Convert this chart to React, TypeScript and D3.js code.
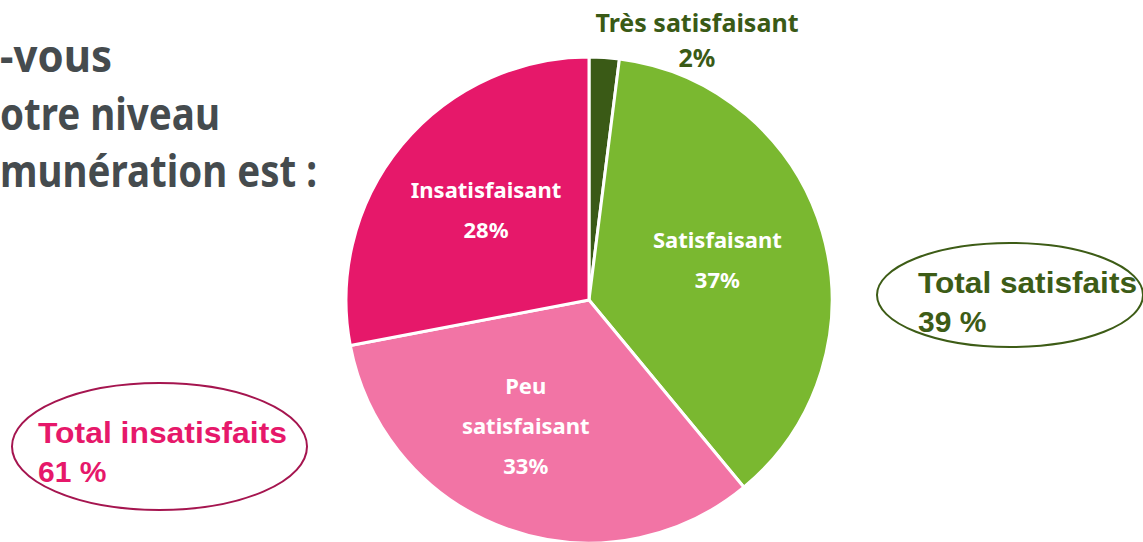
import React from 'react';
import * as d3 from 'd3';

// data
const categories = ['Très satisfaisant', 'Satisfaisant', 'Peu satisfaisant', 'Insatisfaisant'];
const values = [2, 37, 33, 28];
const colors = ['#3a5a16', '#7ab830', '#f274a5', '#e6186a'];
const labelLines = [['Très satisfaisant'], ['Satisfaisant'], ['Peu', 'satisfaisant'], ['Insatisfaisant']];
const titleLines = ['-vous', 'otre niveau', 'munération est :'];
const totalLabels = ['Total satisfaits', 'Total insatisfaits'];
const totalValues = [39, 61];

const width = 1143;
const height = 542;
const cx = 589;
const cy = 300;
const radius = 243;
// small hand nudges so the labels sit where the original put them
const labelShift = [[0, 0], [0, -3], [-18, 0], [0, -5]];

const App = () => {
    const pie = d3.pie<number>().value(d => d).sort(null);
    const arcs = pie(values);
    const arc = d3.arc<d3.PieArcDatum<number>>().innerRadius(0).outerRadius(radius);
    const labelArc = d3.arc<d3.PieArcDatum<number>>().innerRadius(radius * 0.55).outerRadius(radius * 0.55);

    const font = "'Noto Sans', 'Open Sans', sans-serif";
    const arial = "'Liberation Sans', Arial, sans-serif";
    const lineGap = 40;

    return (
        <svg width={width} height={height} style={{position: 'absolute', left: 0, top: 0}}>
            <rect width={width} height={height} fill="#fff"/>

            {/* title, cut at the left edge */}
            {titleLines.map((t, i) => (
                <text key={t} x={0} y={72 + i * 57.5} fill="#454b4e" fontFamily={font}
                      fontWeight="bold" fontSize={44}
                      textLength={[112, 220, 317][i]} lengthAdjust="spacingAndGlyphs">{t}</text>
            ))}

            <g transform={`translate(${cx},${cy})`}>
                {arcs.map((a, i) => (
                    <path key={categories[i]} d={arc(a) || ''} fill={colors[i]}
                          stroke="#fff" strokeWidth={3} strokeLinejoin="round"/>
                ))}
                {arcs.map((a, i) => {
                    if (i === 0) return null;
                    const [x0, y] = labelArc.centroid(a);
                    const x = x0 + labelShift[i][0];
                    const lines = [...labelLines[i], `${values[i]}%`];
                    const y0 = y - ((lines.length - 1) * lineGap) / 2 + 8 + labelShift[i][1];
                    return (
                        <text key={categories[i]} textAnchor="middle" fill="#fff" fontFamily={font}
                              fontWeight="bold" fontSize={22}>
                            {lines.map((l, j) => (
                                <tspan key={j} x={x} y={y0 + j * lineGap}>{l}</tspan>
                            ))}
                        </text>
                    );
                })}
                {/* small slice labelled outside */}
                <text textAnchor="middle" fill={colors[0]} fontFamily={font} fontWeight="bold" fontSize={25}>
                    <tspan x={108} y={32 - cy}>{labelLines[0][0]}</tspan>
                    <tspan x={108} y={67 - cy}>{`${values[0]}%`}</tspan>
                </text>
            </g>

            {/* totals */}
            <ellipse cx={1010} cy={295} rx={133} ry={52} fill="none" stroke="#3d5c16" strokeWidth={2}/>
            <text fill="#3d5c16" fontFamily={arial} fontWeight="bold" fontSize={30}>
                <tspan x={918} y={293} textLength={219} lengthAdjust="spacingAndGlyphs">{totalLabels[0]}</tspan>
                <tspan x={918} y={332}>{`${totalValues[0]} %`}</tspan>
            </text>

            <ellipse cx={159.5} cy={446.5} rx={147.5} ry={63.5} fill="none" stroke="#a5154f" strokeWidth={2}/>
            <text fill="#e6186a" fontFamily={arial} fontWeight="bold" fontSize={30}>
                <tspan x={38} y={443} textLength={249} lengthAdjust="spacingAndGlyphs">{totalLabels[1]}</tspan>
                <tspan x={38} y={482}>{`${totalValues[1]} %`}</tspan>
            </text>
        </svg>
    );
};

export default App;
